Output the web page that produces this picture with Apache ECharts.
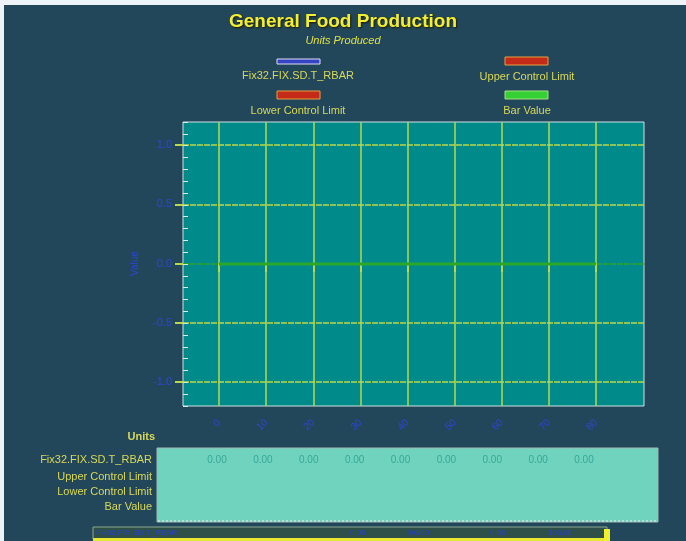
<!DOCTYPE html>
<html><head><meta charset="utf-8">
<script src="https://cdn.jsdelivr.net/npm/echarts@6/dist/echarts.min.js"></script>
<style>html,body{margin:0;padding:0;background:#eef3f8;}#c{width:686px;height:541px;}</style>
</head><body><div id="c"></div>
<script>
// ---- data ----
var xLabels = ['0', '10', '20', '30', '40', '50', '60', '70', '80'];
var rbarValues = [0, 0, 0, 0, 0, 0, 0, 0, 0];
var yTicks = [-1.0, -0.5, 0.0, 0.5, 1.0];
var seriesNames = ['Fix32.FIX.SD.T_RBAR', 'Upper Control Limit', 'Lower Control Limit', 'Bar Value'];
var tableRowLabels = ['Fix32.FIX.SD.T_RBAR', 'Upper Control Limit', 'Lower Control Limit', 'Bar Value'];
var statusTexts = ['Fix32.FIX.SD.T_RBAR', '0.00', '0/0/00', '0:00', '100.00'];

var chart = echarts.init(document.getElementById('c'));
var FONT = 'Liberation Sans, Arial, sans-serif';
var BG = '#23475a';
var GRIDC = '#b9d84c';
var ZEROC = '#2aa82a';
var BLUE = '#2c46d6';

var lineData = rbarValues.map(function (v, i) { return [i, v]; });

// legend graphics
var legendItems = [
  {name: seriesNames[0], x: 277, y: 59, h: 5, fill: '#3444c4', stroke: '#dcdcf0', tx: 298, ty: 76},
  {name: seriesNames[1], x: 505, y: 57, h: 8, fill: '#c42a18', stroke: '#e8a040', tx: 527, ty: 77},
  {name: seriesNames[2], x: 277, y: 91, h: 8, fill: '#c42a18', stroke: '#e8a040', tx: 298, ty: 111},
  {name: seriesNames[3], x: 505, y: 91, h: 8, fill: '#34d034', stroke: '#a8e080', tx: 527, ty: 111}
];
var graphics = [
  {type: 'rect', shape: {x: 0, y: 0, width: 686, height: 5}, style: {fill: '#eef3f8'}, z: 100},
  {type: 'rect', shape: {x: 0, y: 0, width: 4, height: 541}, style: {fill: '#eef3f8'}, z: 100},
  // table box
  {type: 'rect', shape: {x: 157, y: 448, width: 501, height: 74}, style: {fill: '#6fd3bd', stroke: '#9fb8b4', lineWidth: 1}, z: 1},
  {type: 'line', shape: {x1: 158, y1: 521, x2: 657, y2: 521}, style: {stroke: '#e8f4f0', lineWidth: 1, lineDash: [2, 2]}, z: 2},
  {type: 'text', x: 155, y: 437, style: {text: 'Units', fill: '#d8d858', font: 'bold 11px ' + FONT, align: 'right', verticalAlign: 'middle'}},
  // status strip
  {type: 'rect', shape: {x: 93, y: 527, width: 514, height: 12}, style: {fill: '#2e5048', stroke: '#8aa890', lineWidth: 1}, z: 1},
  {type: 'rect', shape: {x: 93, y: 538, width: 514, height: 3}, style: {fill: '#e8e830'}, z: 2},
  {type: 'rect', shape: {x: 604, y: 529, width: 6, height: 12}, style: {fill: '#f0f030'}, z: 2}
];
tableRowLabels.forEach(function (t, i) {
  var ys = [460, 477, 492, 507];
  graphics.push({type: 'text', x: 152, y: ys[i], style: {text: t, fill: '#d8d858', font: '11px ' + FONT, align: 'right', verticalAlign: 'middle'}});
});
var statusX = [96, 350, 407, 490, 548];
statusTexts.forEach(function (t, i) {
  graphics.push({type: 'text', x: statusX[i], y: 533, z: 3, style: {text: t, fill: '#2a40d0', font: '8px ' + FONT, align: 'left', verticalAlign: 'middle'}});
});
legendItems.forEach(function (it) {
  graphics.push({type: 'rect', shape: {x: it.x, y: it.y, width: 43, height: it.h}, style: {fill: it.fill, stroke: it.stroke, lineWidth: 1}});
  graphics.push({type: 'text', x: it.tx, y: it.ty, style: {text: it.name, fill: '#d8d858', font: '11px ' + FONT, align: 'center', verticalAlign: 'middle'}});
});

var splitColors = yTicks.map(function (v) { return v === 0 ? ZEROC : GRIDC; });

var option = {
  backgroundColor: BG,
  animation: false,
  title: [{
    text: 'General Food Production', left: 'center', top: 7,
    textStyle: {color: '#f4ee30', fontSize: 19, fontWeight: 'bold', fontFamily: FONT,
      textShadowColor: '#1a1a00', textShadowBlur: 2, textShadowOffsetX: 1, textShadowOffsetY: 1},
    subtext: 'Units Produced', itemGap: 4,
    subtextStyle: {color: '#e0e040', fontSize: 11, fontStyle: 'italic', fontFamily: FONT}
  }],
  grid: [
    // 0: background plot area with minor ticks
    {left: 183, top: 122, width: 461, height: 284, show: true, backgroundColor: '#008a8a', borderColor: '#cfe0e0', borderWidth: 1},
    // 1: horizontal grid lines / major y labels (-1..1)
    {left: 183, top: 145, width: 461, height: 237},
    // 2: x axis grid
    {left: 219, top: 122, width: 377, height: 284},
    // 3: table values row
    {left: 217, top: 455, width: 367, height: 10}
  ],
  xAxis: [
    {gridIndex: 0, type: 'value', min: 0, max: 1, show: false},
    {gridIndex: 1, type: 'value', min: 0, max: 1, show: false},
    {gridIndex: 2, type: 'value', min: 0, max: 8, interval: 1,
      axisLine: {show: false},
      axisTick: {show: true, length: 8, lineStyle: {color: GRIDC, width: 2}},
      splitLine: {show: true, lineStyle: {color: GRIDC, width: 1.5}},
      axisLabel: {show: true, rotate: 45, margin: 15, color: BLUE, fontSize: 10, fontFamily: FONT,
        formatter: function (v) { return xLabels[Math.round(v)]; }}},
    {gridIndex: 3, type: 'value', min: 0, max: 8, show: false}
  ],
  yAxis: [
    {gridIndex: 0, type: 'value', min: -1.2, max: 1.2, interval: 0.1,
      axisLine: {show: false}, axisLabel: {show: false}, splitLine: {show: false},
      axisTick: {show: true, inside: true, length: 5, lineStyle: {color: '#d8ece8', width: 1}}},
    {gridIndex: 1, type: 'value', min: -1, max: 1, interval: 0.5,
      name: 'Value', nameLocation: 'middle', nameGap: 43, nameRotate: 90,
      nameTextStyle: {color: BLUE, fontSize: 10, fontFamily: FONT},
      axisLine: {show: false},
      axisTick: {show: true, length: 8, lineStyle: {color: GRIDC, width: 2}},
      splitLine: {show: true, lineStyle: {color: splitColors, width: 1.5, type: [6, 1]}},
      axisLabel: {color: BLUE, fontSize: 11, fontFamily: FONT, margin: 11,
        formatter: function (v) { return v.toFixed(1); }}},
    {gridIndex: 2, type: 'value', min: -1.2, max: 1.2, show: false},
    {gridIndex: 3, type: 'value', min: -1, max: 1, show: false}
  ],
  series: [
    {name: seriesNames[0], type: 'line', xAxisIndex: 2, yAxisIndex: 2, data: lineData,
      symbol: 'none', lineStyle: {color: ZEROC, width: 3}, z: 5},
    {name: 'table', type: 'scatter', xAxisIndex: 3, yAxisIndex: 3,
      data: rbarValues.map(function (v, i) { return [i, 0, v]; }),
      symbolSize: 1, itemStyle: {color: 'transparent'},
      label: {show: true, position: 'inside', color: '#2a9c90', fontSize: 10, fontFamily: FONT,
        formatter: function (p) { return p.value[2].toFixed(2); }}}
  ],
  graphic: graphics
};
chart.setOption(option);
</script></body></html>
